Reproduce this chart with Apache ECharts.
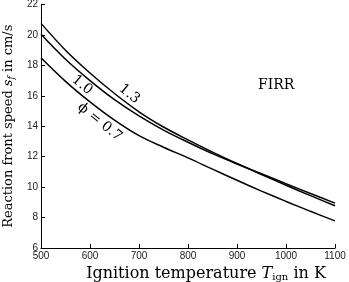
<!DOCTYPE html>
<html><head><meta charset="utf-8">
<script src="https://cdn.jsdelivr.net/npm/echarts@6/dist/echarts.min.js"></script>
<style>html,body{margin:0;padding:0;background:#fff}#c{width:349px;height:282px}</style>
</head><body><div id="c"></div>
<script>
const temps = [500,550,600,650,700,750,800,850,900,950,1000,1050,1100];
const phi13 = [20.76,19.0,17.5,16.15,14.95,13.95,13.1,12.3,11.55,10.83,10.12,9.44,8.78];
const phi10 = [20.04,18.4,17.0,15.75,14.68,13.75,12.95,12.2,11.52,10.88,10.22,9.58,8.95];
const phi07 = [18.5,16.95,15.6,14.4,13.38,12.62,11.92,11.18,10.45,9.74,9.06,8.41,7.78];
const xTicks = [500,600,700,800,900,1000,1100];
const yTicks = [6,8,10,12,14,16,18,20,22];
const curveLabels = [
  {text:'1.3', T:680, v:16.12},
  {text:'1.0', T:584, v:16.71},
  {text:'\u03d5 = 0.7', T:620, v:14.28}
];
const serif = '"DejaVu Serif","Liberation Serif",serif';
const sans = '"Liberation Sans","DejaVu Sans",sans-serif';
const XF = 16, YF = 13;
const chart = echarts.init(document.getElementById('c'));
function mk(vals){return {type:'line',data:temps.map((t,i)=>[t,vals[i]]),smooth:0.35,showSymbol:false,lineStyle:{color:'#000',width:1.5},silent:true};}
chart.setOption({
  animation:false,
  grid:{left:41,right:14,top:4.5,bottom:34,containLabel:false,outerBoundsMode:'none'},
  xAxis:{type:'value',min:500,max:1100,interval:100,
    axisLine:{lineStyle:{color:'#000',width:1}},
    axisTick:{inside:true,length:4,lineStyle:{color:'#000'}},
    axisLabel:{color:'#222',fontFamily:sans,fontSize:10,margin:3,formatter:v=>String(v)},
    splitLine:{show:false},
    name:'Ignition temperature {i|T}{sub|ign} in K',nameLocation:'middle',nameGap:14,
    nameTextStyle:{color:'#000',fontFamily:serif,fontSize:XF,padding:[0,0,0,36],
      rich:{i:{fontFamily:serif,fontStyle:'italic',fontSize:XF,color:'#000'},sub:{fontFamily:serif,fontSize:10,color:'#000',padding:[7,0,0,0]}}}},
  yAxis:{type:'value',min:6,max:22,interval:2,
    axisLine:{show:true,lineStyle:{color:'#000',width:1}},
    axisTick:{show:true,inside:true,length:4,lineStyle:{color:'#000'}},
    axisLabel:{color:'#222',fontFamily:sans,fontSize:10,margin:3,formatter:v=>String(v)},
    splitLine:{show:false},
    name:'Reaction front speed {i|s}{sub|f} in cm/s',nameLocation:'middle',nameGap:24,
    nameTextStyle:{color:'#000',fontFamily:serif,fontSize:YF,
      rich:{i:{fontFamily:serif,fontStyle:'italic',fontSize:YF,color:'#000'},sub:{fontFamily:serif,fontStyle:'italic',fontSize:9,color:'#000',padding:[6,0,0,0]}}}},
  series:[mk(phi13),mk(phi10),mk(phi07)]
});
const g = [{type:'text',left:258,top:78,style:{text:'FIRR',font:'14px '+serif,fill:'#000'}}];
curveLabels.forEach(l=>{
  const p = chart.convertToPixel({gridIndex:0},[l.T,l.v]);
  g.push({type:'text',x:p[0],y:p[1],rotation:-0.68,style:{text:l.text,font:'14px '+serif,fill:'#000',align:'center',verticalAlign:'middle'}});
});
chart.setOption({graphic:g});
</script></body></html>
